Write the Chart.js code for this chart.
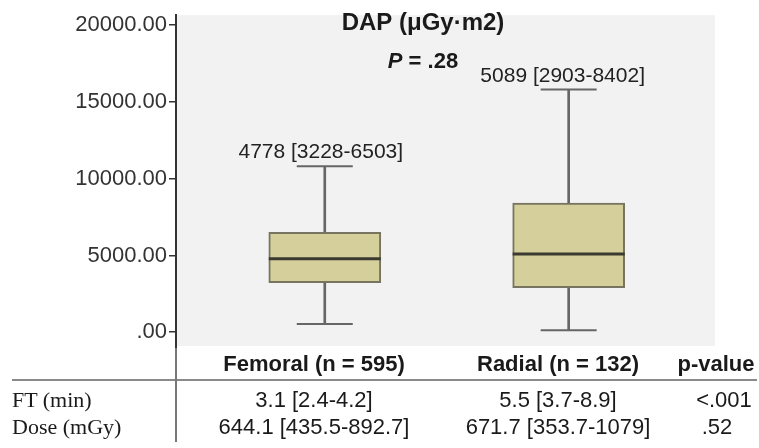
<!DOCTYPE html>
<html>
<head>
<meta charset="utf-8">
<script src="https://cdn.jsdelivr.net/npm/chart.js@4.4.1/dist/chart.umd.min.js"></script>
<style>
  html,body{margin:0;padding:0;background:#fff;}
  #wrap{position:relative;width:759px;height:448px;overflow:hidden;}
  #c{position:absolute;left:0;top:0;}
  .t{position:absolute;white-space:nowrap;color:#1a1a1a;}
  .sans{font-family:"Liberation Sans",Arial,sans-serif;font-size:22px;}
  .serif{font-family:"Liberation Serif","Times New Roman",serif;font-size:22px;}
  .b{font-weight:bold;}
  .c{transform:translateX(-50%);}
</style>
</head>
<body>
<div id="wrap">
<canvas id="c" width="759" height="448"></canvas>
</div>
<script>
// ---- data ----
const groups      = ["Femoral", "Radial"];
const groupX      = [1, 2];
const whiskerLow  = [530, 130];
const q1          = [3228, 2903];
const median      = [4778, 5089];
const q3          = [6503, 8402];
const whiskerHigh = [10800, 15800];
const boxLabels   = ["4778 [3228-6503]", "5089 [2903-8402]"];
const yTicks      = [0, 5000, 10000, 15000, 20000];
const chartTitle  = "DAP (μGy·m2)";
const pText       = " = .28";

const tableHeader = ["Femoral (n = 595)", "Radial (n = 132)", "p-value"];
const tableRows   = ["FT (min)", "Dose (mGy)"];
const tableFemoral= ["3.1 [2.4-4.2]", "644.1 [435.5-892.7]"];
const tableRadial = ["5.5 [3.7-8.9]", "671.7 [353.7-1079]"];
const tableP      = ["<.001", ".52"];

// ---- chart ----
const bgPlugin = {
  id: 'bg',
  beforeDraw(chart){
    const {ctx, chartArea:a} = chart;
    ctx.save();
    ctx.fillStyle = '#f2f2f2';
    ctx.fillRect(a.left+1, a.top, a.right-a.left-1, a.bottom-a.top-2);
    ctx.restore();
  },
  afterDraw(chart){
    const {ctx, chartArea:a, scales} = chart;
    const xs = scales.x, ys = scales.y;
    ctx.save();
    ctx.fillStyle = '#1a1a1a';
    ctx.textAlign = 'center';
    ctx.textBaseline = 'alphabetic';
    ctx.font = 'bold 24px "Liberation Sans", Arial, sans-serif';
    ctx.fillText(chartTitle, 423, 30);
    // P = .28
    ctx.font = 'italic bold 22px "Liberation Sans", Arial, sans-serif';
    const pw = ctx.measureText('P').width;
    ctx.font = 'bold 22px "Liberation Sans", Arial, sans-serif';
    const rw = ctx.measureText(pText).width;
    const px0 = 423 - (pw + rw)/2;
    ctx.textAlign = 'left';
    ctx.font = 'italic bold 22px "Liberation Sans", Arial, sans-serif';
    ctx.fillText('P', px0, 68);
    ctx.font = 'bold 22px "Liberation Sans", Arial, sans-serif';
    ctx.fillText(pText, px0 + pw, 68);
    // box labels
    ctx.textAlign = 'center';
    ctx.font = '21px "Liberation Sans", Arial, sans-serif';
    ctx.fillStyle = '#222';
    for (let i = 0; i < groups.length; i++) {
      const x = xs.getPixelForValue(groupX[i]);
      const y = ys.getPixelForValue(whiskerHigh[i]);
      ctx.fillText(boxLabels[i], x - 4 + (i===1?-2:0), y - 8);
    }
    ctx.restore();
  }
};

const ctx = document.getElementById('c').getContext('2d');
new Chart(ctx, {
  type: 'bar',
  data: {
    datasets: [
      {
        type: 'line',
        label: 'median',
        order: 0,
        showLine: false,
        clip: false,
        data: groupX.map((x,i)=>({x, y: median[i]})),
        pointStyle: 'line',
        pointRadius: 56,
        pointHoverRadius: 56,
        pointBorderWidth: 3,
        pointBorderColor: '#3a3a30',
        borderColor: '#3a3a30'
      },
      {
        type: 'line',
        label: 'capHigh',
        order: 1,
        showLine: false,
        clip: false,
        data: groupX.map((x,i)=>({x, y: whiskerHigh[i]})),
        pointStyle: 'line',
        pointRadius: 28,
        pointHoverRadius: 28,
        pointBorderWidth: 2,
        pointBorderColor: '#666',
        borderColor: '#666'
      },
      {
        type: 'line',
        label: 'capLow',
        order: 1,
        showLine: false,
        clip: false,
        data: groupX.map((x,i)=>({x, y: whiskerLow[i]})),
        pointStyle: 'line',
        pointRadius: 28,
        pointHoverRadius: 28,
        pointBorderWidth: 2,
        pointBorderColor: '#666',
        borderColor: '#666'
      },
      {
        label: 'box',
        order: 2,
        grouped: false,
        data: groupX.map((x,i)=>({x, y: [q1[i], q3[i]]})),
        barThickness: 112,
        backgroundColor: '#d5cf9b',
        borderColor: '#77755f',
        borderWidth: 2,
        borderSkipped: false
      },
      {
        label: 'whisker',
        order: 3,
        grouped: false,
        data: groupX.map((x,i)=>({x, y: [whiskerLow[i], whiskerHigh[i]]})),
        barThickness: 2,
        backgroundColor: '#666',
        borderWidth: 0
      }
    ]
  },
  options: {
    responsive: false,
    animation: false,
    devicePixelRatio: 1,
    events: [],
    layout: { autoPadding: false, padding: { top: 10, right: 44, bottom: 100, left: 0 } },
    plugins: { legend: { display: false }, tooltip: { enabled: false }, title: { display: false } },
    scales: {
      x: {
        type: 'linear',
        min: 0.39,
        max: 2.6,
        display: false,
        offset: false
      },
      y: {
        min: -1026,
        max: 20641,
        afterFit(s){ s.width = 176; },
        afterBuildTicks(s){ s.ticks = yTicks.map(v=>({value:v})); },
        grid: { drawOnChartArea: false, drawTicks: true, tickLength: 7, color: '#333', lineWidth: 1.5 },
        border: { display: true, color: '#333', width: 2 },
        ticks: {
          padding: 2,
          color: '#333',
          font: { family: '"Liberation Sans", Arial, sans-serif', size: 22 },
          callback: v => v === 0 ? '.00' : v.toFixed(2)
        }
      }
    }
  },
  plugins: [bgPlugin]
});

// ---- table (HTML text) ----
const wrap = document.getElementById('wrap');
function addText(txt, cls, x, y, center){
  const d = document.createElement('div');
  d.className = 't ' + cls + (center ? ' c' : '');
  d.textContent = txt;
  d.style.left = x + 'px';
  d.style.top = y + 'px';
  wrap.appendChild(d);
  return d;
}
const colX = [314, 558, 716];
tableHeader.forEach((h,i)=> addText(h, 'sans b', colX[i], 351, true));
tableRows.forEach((r,i)=>{
  const y = 387 + i*27;
  addText(r, 'serif', 12, y, false);
  addText(tableFemoral[i], 'sans', colX[0], y, true);
  addText(tableRadial[i], 'sans', colX[1], y, true);
  addText(tableP[i], 'sans', colX[2] + (i===0?8:1), y, true);
});
// rules
const hr = document.createElement('div');
hr.style.cssText = 'position:absolute;left:12px;top:379px;width:745px;height:2px;background:#8a8a8a;';
wrap.appendChild(hr);
const vr = document.createElement('div');
vr.style.cssText = 'position:absolute;left:175px;top:348px;width:2px;height:94px;background:#777;';
wrap.appendChild(vr);
</script>
</body>
</html>
